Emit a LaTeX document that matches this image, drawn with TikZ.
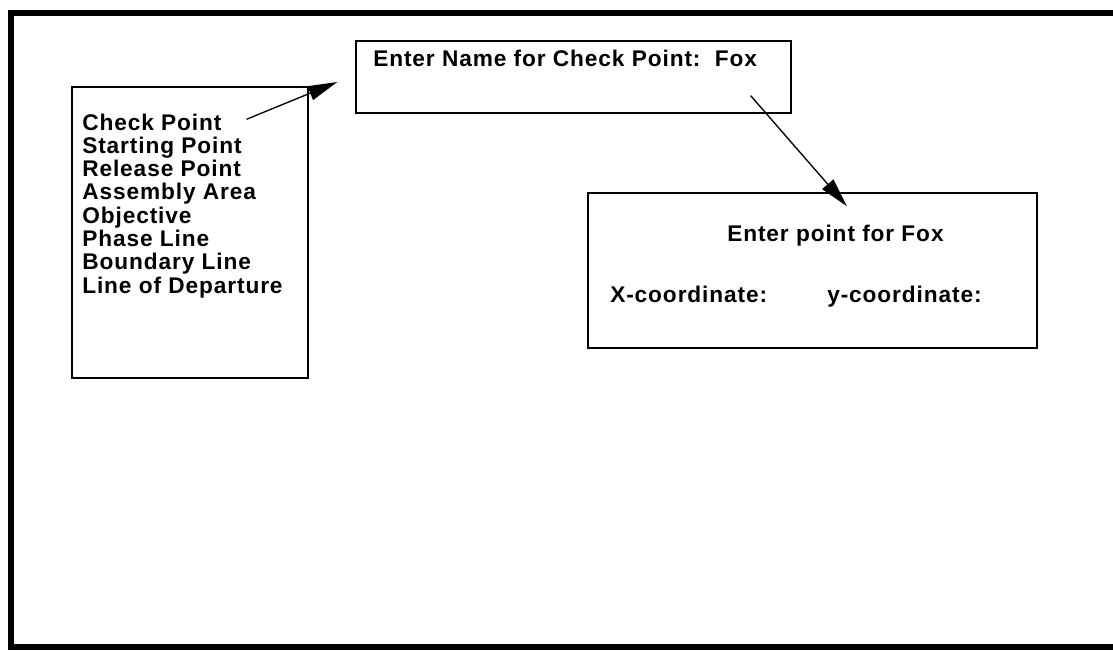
\documentclass[tikz,border=0pt]{standalone}
\usepackage{fontspec}
\setmainfont{Liberation Sans}[LetterSpace=4]
\usepackage{tikz}
\usetikzlibrary{positioning,calc,arrows.meta}
\tikzset{
  scrfont/.style={font=\fontsize{17}{20}\selectfont\bfseries},
  scrbox/.style={draw, line width=1pt, inner sep=0pt},
  scrtext/.style={anchor=base west, inner sep=0pt},
  scrarrow/.style={-{Triangle[length=22pt, width=11pt]}, line width=1pt},
}

\begin{document}
\begin{tikzpicture}[x=0.75pt, y=0.75pt, scrfont]
		\useasboundingbox (0,0) rectangle (1113,-650);
		% Screen frame, open to the right
		\draw[line width=4pt] (1113,-13) -- (11,-13) -- (11,-647) -- (1113,-647);

		% Menu of control measures
		\node[scrbox, minimum width=177pt, minimum height=218.25pt] (menubox) at (190,-232.5) {};
		\foreach \lbl [count=\i] in {Check Point, Starting Point, Release Point, Assembly Area,
		                             Objective, Phase Line, Boundary Line, Line of Departure}
			\node[scrtext] (item\i) at (82,{-130-23.3*(\i-1)}) {\lbl};

		% Name prompt
		\node[scrbox, minimum width=326.25pt, minimum height=54pt] (namebox) at (573.5,-77) {};
		\node[scrtext] (namelbl) at (373,-66) {Enter Name for Check Point:\ \ Fox};

		% Point prompt
		\node[scrbox, minimum width=336.75pt, minimum height=116.25pt] (ptbox) at (812.5,-270.5) {};
		\node[scrtext] (ptlbl) at (727,-241) {Enter point for Fox};
		\node[scrtext] (xlbl) at (610,-302) {X-coordinate:};
		\node[scrtext] (ylbl) at (827,-302) {y-coordinate:};

		% Arrows between the dialogs
		\draw[scrarrow] ([xshift=18.75pt, yshift=2pt]item1.east) -- ([xshift=-13.5pt, yshift=-3.75pt]namebox.west);
		\draw[scrarrow] ([xshift=-30.75pt, yshift=13.5pt]namebox.south east) -- ([xshift=25.9pt, yshift=-10.5pt]ptbox.north);
	\end{tikzpicture}
\end{document}
